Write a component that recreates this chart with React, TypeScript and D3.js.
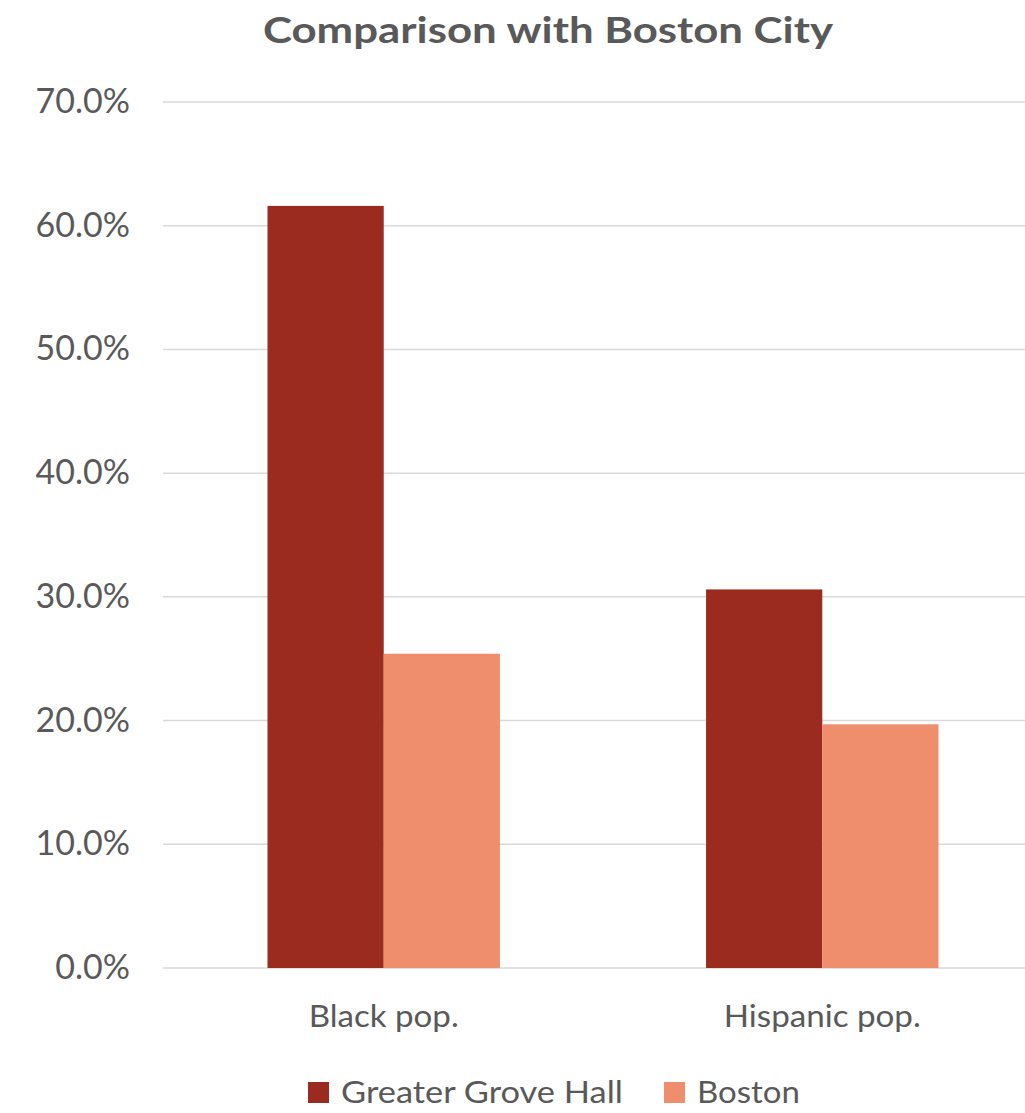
import React, { useEffect, useRef } from 'react';
import * as d3 from 'd3';

const categories = ['Black pop.', 'Hispanic pop.'];
const seriesNames = ['Greater Grove Hall', 'Boston'];
const groveHall = [0.616, 0.306];
const boston = [0.254, 0.197];
const yTicks = [0, 0.1, 0.2, 0.3, 0.4, 0.5, 0.6, 0.7];
const colors = ['#9B2B1E', '#EF8E6C'];

// measured text widths in the reference (the source text is wider than Lato)
const catWidths = [150, 197];
const legendWidths = [282, 103];

export default function App() {
  const ref = useRef<SVGSVGElement>(null);

  useEffect(() => {
    const svg = d3.select(ref.current);
    svg.selectAll('*').remove();

    const width = 1025, height = 1113;
    const font = 'Lato, "Open Sans", sans-serif';
    const textColor = '#595959';

    svg.attr('width', width).attr('height', height)
      .style('position', 'absolute').style('left', '0px').style('top', '0px');
    svg.append('rect').attr('width', width).attr('height', height).attr('fill', '#fff');

    const x0 = d3.scaleBand().domain(categories).range([164, 1042]).paddingInner(0.47).paddingOuter(0.236);
    const x1 = d3.scaleBand().domain(seriesNames).range([0, x0.bandwidth()]);
    const y = d3.scaleLinear().domain([0, 0.7]).range([968, 102]);

    // gridlines
    svg.append('g').selectAll('line').data(yTicks).enter().append('line')
      .attr('x1', 163).attr('x2', width)
      .attr('y1', (d) => y(d)).attr('y2', (d) => y(d))
      .attr('stroke', '#d9d9d9').attr('stroke-width', 1.5);

    // y labels
    svg.append('g').selectAll('text').data(yTicks).enter().append('text')
      .attr('x', 130).attr('y', (d) => y(d) + 11)
      .attr('text-anchor', 'end')
      .attr('font-family', font).attr('font-size', 34).attr('fill', textColor)
      .text((d) => d3.format('.1%')(d));

    const rows = categories.map((c, i) => ({ cat: c, vals: [groveHall[i], boston[i]] }));
    const groups = svg.append('g').selectAll('g').data(rows).enter().append('g')
      .attr('transform', (d) => `translate(${x0(d.cat)},0)`);
    groups.selectAll('rect')
      .data((d) => d.vals.map((v, j) => ({ name: seriesNames[j], v, j })))
      .enter().append('rect')
      .attr('x', (d) => x1(d.name)!)
      .attr('y', (d) => y(d.v))
      .attr('width', x1.bandwidth())
      .attr('height', (d) => y(0) - y(d.v))
      .attr('fill', (d) => colors[d.j]);

    // category labels
    svg.append('g').selectAll('text').data(categories).enter().append('text')
      .attr('x', (d) => x0(d)! + x0.bandwidth() / 2).attr('y', 1027)
      .attr('text-anchor', 'middle')
      .attr('textLength', (_, i) => catWidths[i]).attr('lengthAdjust', 'spacingAndGlyphs')
      .attr('font-family', font).attr('font-size', 31).attr('fill', textColor)
      .text((d) => d);

    // title
    svg.append('text')
      .attr('x', 548).attr('y', 43)
      .attr('text-anchor', 'middle')
      .attr('textLength', 570).attr('lengthAdjust', 'spacingAndGlyphs')
      .attr('font-family', font).attr('font-size', 36).attr('font-weight', 'bold').attr('fill', textColor)
      .text('Comparison with Boston City');

    // legend
    const legendX = [308, 664];
    const legend = svg.append('g').selectAll('g').data(seriesNames).enter().append('g')
      .attr('transform', (_, i) => `translate(${legendX[i]},1082)`);
    legend.append('rect').attr('width', 21).attr('height', 21).attr('fill', (_, i) => colors[i]);
    legend.append('text').attr('x', 33).attr('y', 21)
      .attr('textLength', (_, i) => legendWidths[i]).attr('lengthAdjust', 'spacingAndGlyphs')
      .attr('font-family', font).attr('font-size', 31).attr('fill', textColor)
      .text((d) => d);
  }, []);

  return <svg ref={ref}></svg>;
}
